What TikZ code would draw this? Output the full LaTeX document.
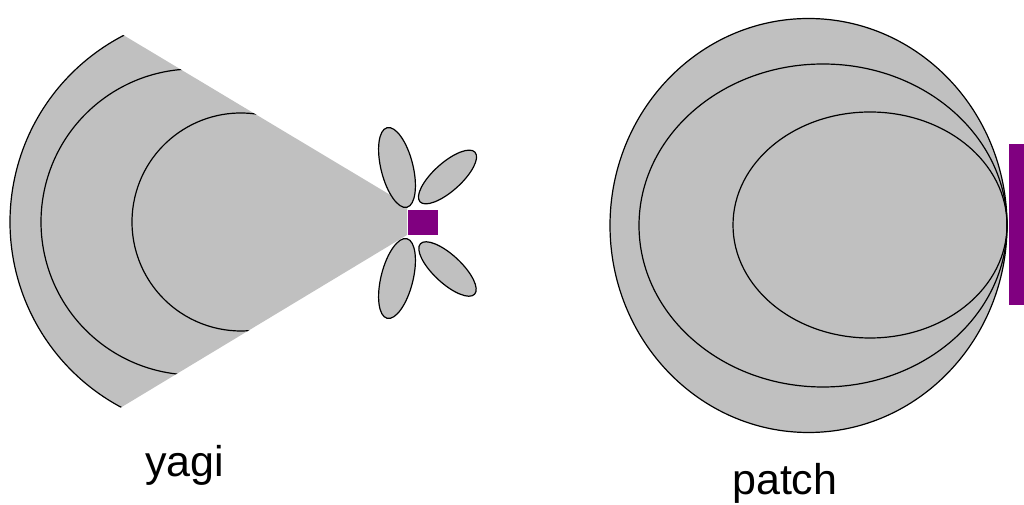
\documentclass[tikz,border=0pt]{standalone}
\usepackage{fontspec}
\setmainfont{Liberation Sans}
\definecolor{lobegrey}{HTML}{C0C0C0}
\definecolor{feedpurple}{HTML}{800080}
\tikzset{
  patternfill/.style={fill=lobegrey},
  patternline/.style={draw=black, line width=1.2pt},
  lobe/.style={fill=lobegrey, draw=black, line width=1.2pt},
  feed/.style={fill=feedpurple},
  caption/.style={font=\fontsize{43}{50}\selectfont, inner sep=0pt, anchor=base west}
}
\begin{document}
\begin{tikzpicture}[x=1pt,y=1pt]
\useasboundingbox (0,0) rectangle (1024,505);
% ---------- yagi ----------
\begin{scope}
  \clip (407,300) -- (-200,663.6) -- (-200,-96) -- (407,270) -- cycle;
  \fill[patternfill] (220,283) circle (210);
  \draw[patternline] (220,283) ++(80:210) arc[start angle=80, end angle=280, radius=210];
  \draw[patternline] (194,283) ++(80:153) arc[start angle=80, end angle=280, radius=153];
  \draw[patternline] (241,283) ++(80:109) arc[start angle=80, end angle=280, radius=109];
\end{scope}
\draw[lobe, rotate around={14:(397,337.5)}] (397,337.5) ellipse (16 and 41);
\draw[lobe, rotate around={-14:(397,226.5)}] (397,226.5) ellipse (16 and 41);
\draw[lobe, rotate around={42:(447.5,328)}] (447.5,328) ellipse (37 and 14);
\draw[lobe, rotate around={-43:(447.5,236)}] (447.5,236) ellipse (37 and 14);
\fill[feed] (408,270) rectangle (438,295);
\node[caption] (yagi) at (145,28) {yagi};
% ---------- patch ----------
\fill[patternfill] (808.5,279.5) ellipse (198.5 and 207);
\draw[patternline] (808.5,279.5) ellipse (198.5 and 207);
\draw[patternline] (823,279.5) ellipse (184 and 161.5);
\draw[patternline] (870,280) ellipse (137 and 113);
\fill[feed] (1009,200) rectangle (1024,361);
\node[caption] (patch) at (732,10) {patch};
\end{tikzpicture}
\end{document}
